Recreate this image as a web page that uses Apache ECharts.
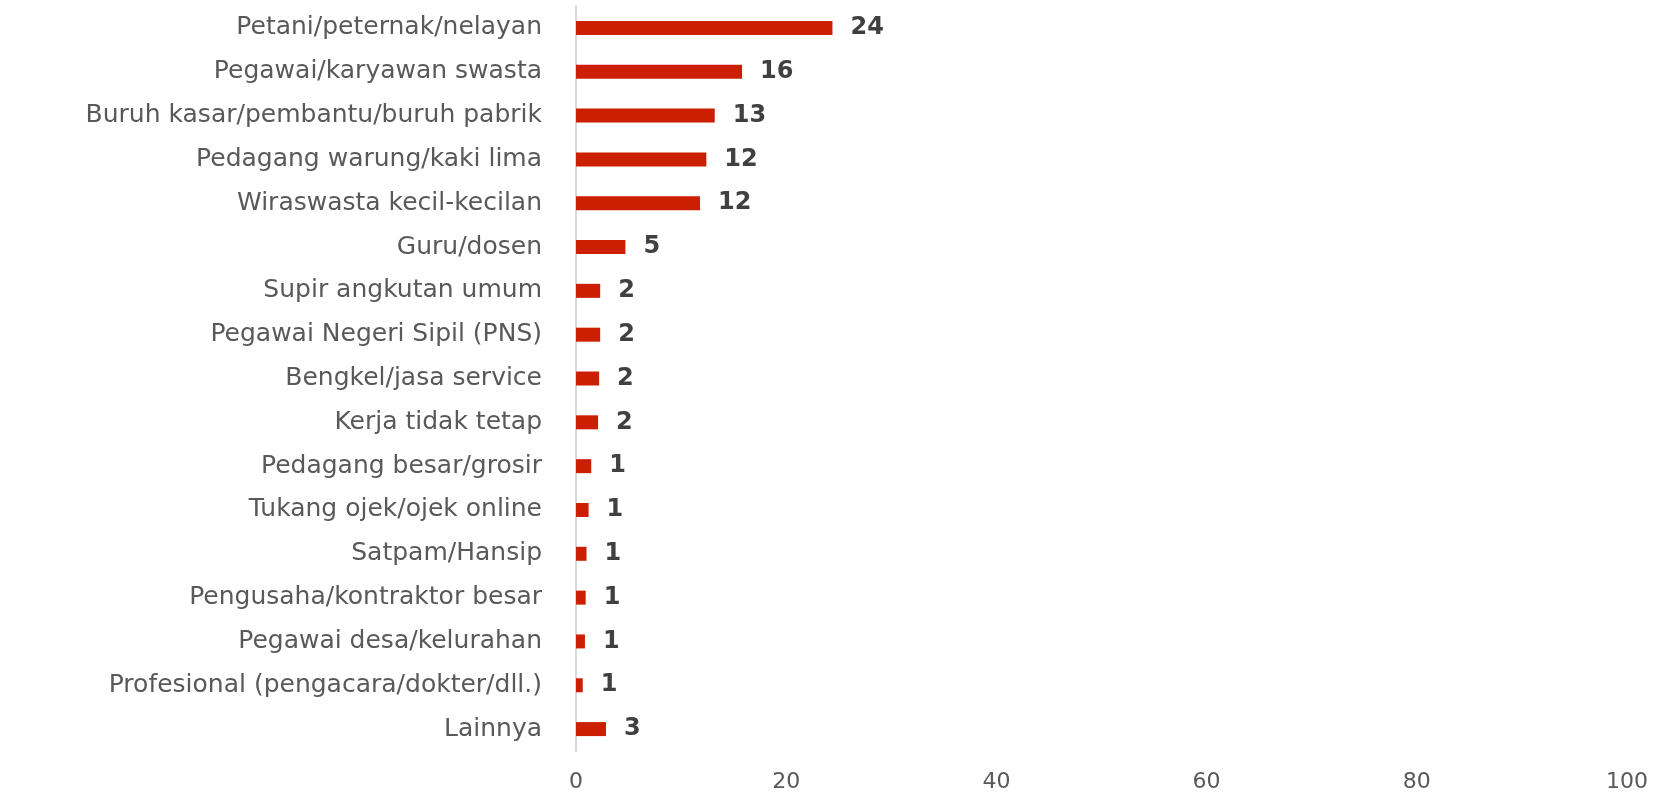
<!DOCTYPE html>
<html>
<head>
<meta charset="utf-8">
<script src="https://cdn.jsdelivr.net/npm/echarts@6/dist/echarts.min.js"></script>
<style>
  html, body { margin: 0; padding: 0; background: #fff; }
  #chart { width: 1663px; height: 793px; }
</style>
</head>
<body>
<div id="chart"></div>
<script>
const categories = [
  'Petani/peternak/nelayan',
  'Pegawai/karyawan swasta',
  'Buruh kasar/pembantu/buruh pabrik',
  'Pedagang warung/kaki lima',
  'Wiraswasta kecil-kecilan',
  'Guru/dosen',
  'Supir angkutan umum',
  'Pegawai Negeri Sipil (PNS)',
  'Bengkel/jasa service',
  'Kerja tidak tetap',
  'Pedagang besar/grosir',
  'Tukang ojek/ojek online',
  'Satpam/Hansip',
  'Pengusaha/kontraktor besar',
  'Pegawai desa/kelurahan',
  'Profesional (pengacara/dokter/dll.)',
  'Lainnya'
]
const values = [24.4, 15.8, 13.2, 12.4, 11.8, 4.7, 2.3, 2.3, 2.2, 2.1, 1.45, 1.2, 1.0, 0.92, 0.85, 0.64, 2.85]
const xTicks = { min: 0, max: 100, interval: 20 }

const chart = echarts.init(document.getElementById('chart'))
chart.setOption({
  animation: false,
  grid: { left: 576, right: 36, top: 6, bottom: 41 },
  xAxis: {
    type: 'value',
    min: xTicks.min,
    max: xTicks.max,
    interval: xTicks.interval,
    axisLine: { show: false },
    axisTick: { show: false },
    splitLine: { show: false },
    axisLabel: { color: '#595959', fontSize: 22, fontFamily: 'DejaVu Sans', margin: 20 }
  },
  yAxis: {
    type: 'category',
    data: categories,
    inverse: true,
    axisLine: { show: true, lineStyle: { color: '#d9d9d9', width: 2 } },
    axisTick: { show: false },
    axisLabel: { color: '#595959', fontSize: 25, fontFamily: 'DejaVu Sans', margin: 34 }
  },
  series: [{
    type: 'bar',
    data: values,
    barWidth: 14,
    itemStyle: { color: '#cc1e00' },
    label: {
      show: true,
      position: 'right',
      distance: 18,
      color: '#404040',
      fontSize: 24,
      fontWeight: 600,
      fontFamily: 'DejaVu Sans',
      formatter: p => Math.round(p.value)
    }
  }]
})
</script>
</body>
</html>
